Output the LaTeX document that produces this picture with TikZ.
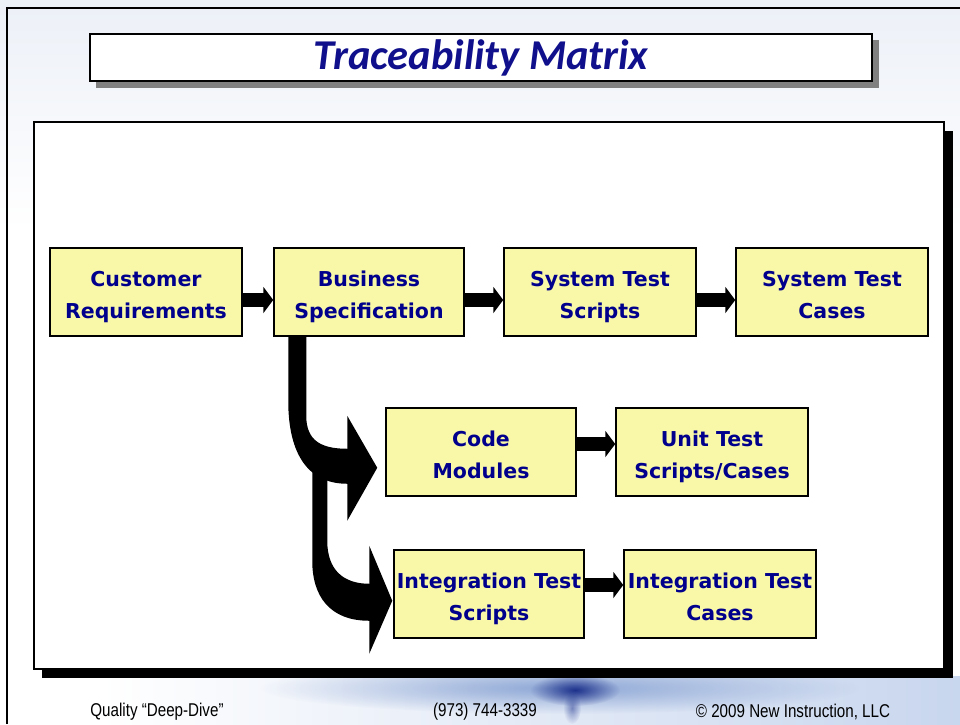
\documentclass[tikz,border=0pt]{standalone}
\usepackage{fontspec}
\newfontfamily\boxfont{DejaVu Sans}
\newfontfamily\titlefont{Carlito}
\newfontfamily\footfont{Liberation Sans}[FakeStretch=0.82]
\usetikzlibrary{calc,arrows.meta,fadings}
\tikzfading[name=glow, inner color=transparent!0, outer color=transparent!100]
\definecolor{boxyellow}{RGB}{248,248,168}
\definecolor{navytext}{RGB}{0,0,140}
\definecolor{titleblue}{RGB}{16,16,140}
\definecolor{haze}{RGB}{236,240,247}
\definecolor{swirl}{RGB}{200,214,238}
\definecolor{swirlmid}{RGB}{120,150,205}
\definecolor{swirldark}{RGB}{30,50,140}
\tikzset{
  stage/.style={draw, line width=1.5pt, fill=boxyellow, text=navytext, align=center,
    inner sep=0pt, minimum height=88pt, text height=58pt, text depth=6pt,
    font=\boxfont\bfseries\fontsize{20.5}{32}\selectfont},
  wide/.style={minimum width=192pt},
  narrow/.style={minimum width=190pt},
  blk/.style={line width=14pt, -{Triangle[length=10pt,width=26pt]}},
  footnote/.style={font=\footfont\fontsize{18.5}{20}\selectfont, inner sep=0pt},
}

\begin{document}
\begin{tikzpicture}[x=1pt,y=-1pt]
  \useasboundingbox (0,0) rectangle (960,724);
  % slide background
  \fill[white] (0,0) rectangle (960,724);
  \shade[top color=haze, bottom color=white] (0,0) rectangle (960,230);
  \shade[left color=white, right color=swirl] (100,676) rectangle (960,724);
  \fill[swirlmid, path fading=glow, opacity=.8] (560,688) ellipse (300 and 26);
  \fill[swirldark, path fading=glow] (575,690) ellipse (45 and 16);
  \fill[swirldark, path fading=glow, opacity=.5] (572,708) ellipse (9 and 16);
  \draw[line width=1.5pt] (7,724) -- (7,8) -- (960,8);

  % title
  \fill[gray] (96,40) rectangle (879,88);
  \node[draw, line width=1.5pt, fill=white, inner sep=0pt, minimum width=782pt,
    minimum height=47pt, text=titleblue,
    font=\titlefont\bfseries\itshape\fontsize{42.5}{44}\selectfont]
    (title) at (481,57.5) {Traceability Matrix};

  % panel
  \fill[black] (42,131) rectangle (953,678);
  \node[draw, line width=1.5pt, fill=white, inner sep=0pt, minimum width=910pt,
    minimum height=547pt] (panel) at (489,395.5) {};

  % stages
  \node[stage, wide]   (cust)  at (146,292) {Customer\\Requirements};
  \node[stage, narrow] (bspec) at (369,292) {Business\\Specification};
  \node[stage, wide]   (stscr) at (600,292) {System Test\\Scripts};
  \node[stage, wide]   (stcas) at (832,292) {System Test\\Cases};
  \node[stage, narrow] (code)  at (481,452) {Code\\Modules};
  \node[stage, wide]   (unit)  at (712,452) {Unit Test\\Scripts/Cases};
  \node[stage, narrow] (itscr) at (489,594) {Integration Test\\Scripts};
  \node[stage, wide]   (itcas) at (720,594) {Integration Test\\Cases};

  % straight arrows
  \draw[blk] ([yshift=-8pt]cust.east)  -- ([yshift=-8pt]bspec.west);
  \draw[blk] ([yshift=-8pt]bspec.east) -- ([yshift=-8pt]stscr.west);
  \draw[blk] ([yshift=-8pt]stscr.east) -- ([yshift=-8pt]stcas.west);
  \draw[blk] ([yshift=8pt]code.east)   -- ([yshift=8pt]unit.west);
  \draw[blk] ([yshift=9pt]itscr.east)  -- ([yshift=9pt]itcas.west);

  % bent arrows out of the business specification
  \begin{scope}[shift={(bspec.south west)}]
    \fill (15,0) -- (33,0) -- (33,79) .. controls (33,104) and (48,112) .. (74,112)
      -- (74,79) -- (104,131) -- (74,184) -- (74,147)
      .. controls (36,147) and (15,119) .. (15,64) -- cycle;
    \fill (39,119) -- (54,119) -- (54,204) .. controls (54,234) and (71,247) .. (96,247)
      -- (96,209) -- (119,264) -- (96,317) -- (96,284)
      .. controls (56,284) and (39,259) .. (39,224) -- cycle;
  \end{scope}

  % footer
  \node[footnote] (qual)  at (157,712) {Quality “Deep-Dive”};
  \node[footnote] (phone) at (485,712) {(973) 744-3339};
  \node[footnote] (copy)  at (793,712) {© 2009 New Instruction, LLC};
\end{tikzpicture}
\end{document}
